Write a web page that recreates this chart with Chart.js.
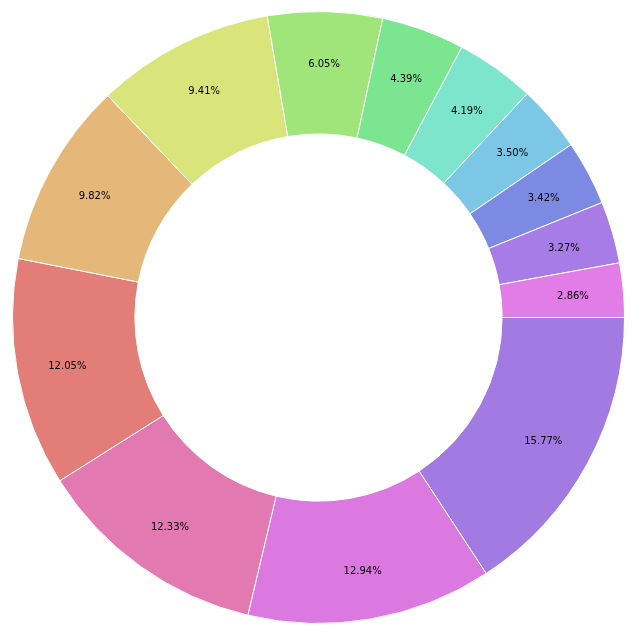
<!DOCTYPE html>
<html>
<head>
<meta charset="utf-8">
<script src="https://cdn.jsdelivr.net/npm/chart.js@4/dist/chart.umd.min.js"></script>
<style>
  html,body{margin:0;padding:0;background:#fff}
  #wrap{width:639px;height:635px;position:relative}
</style>
</head>
<body>
<div id="wrap"><canvas id="chartPie"></canvas></div>
<script>
// ---- Data (clockwise from 3 o'clock) ----
const shares = [15.77, 12.94, 12.33, 12.05, 9.82, 9.41, 6.05, 4.39, 4.19, 3.50, 3.42, 3.27, 2.86];
const labels = shares.map((v,i)=>"Slice " + (i+1));
const colors = ["#a37ae1","#db79e1","#e279b0","#e27d78","#e5b87a","#d9e57a","#a0e57a",
                "#7ce590","#7ce5cc","#7cc6e6","#7c8ae4","#a87ce6","#e27ce6"];

// ---- Percentage labels inside ring ----
const pctLabels = {
  id: "pctLabels",
  afterDatasetsDraw(chart){
    const ctx = chart.ctx;
    const meta = chart.getDatasetMeta(0);
    ctx.save();
    ctx.font = '10px "DejaVu Sans"';
    ctx.fillStyle = "#000";
    ctx.textAlign = "center";
    ctx.textBaseline = "middle";
    meta.data.forEach((arc,i)=>{
      const p = arc.getProps(["x","y","startAngle","endAngle","outerRadius"], true);
      const mid = (p.startAngle + p.endAngle)/2;
      const r = p.outerRadius*0.835;
      ctx.fillText(shares[i].toFixed(2) + "%", p.x + Math.cos(mid)*r, p.y + Math.sin(mid)*r + 2);
    });
    ctx.restore();
  }
};

new Chart(document.getElementById("chartPie").getContext("2d"),{
  type:"doughnut",
  data:{labels, datasets:[{data:shares, backgroundColor:colors, borderColor:"#fff", borderWidth:1}]},
  options:{
    responsive:true, maintainAspectRatio:false, animation:false,
    rotation:90, cutout:"60%",
    layout:{padding:{left:11, right:13, top:11, bottom:11}},
    plugins:{legend:{display:false}, tooltip:{enabled:false}}
  },
  plugins:[pctLabels]
});
</script>
</body>
</html>
